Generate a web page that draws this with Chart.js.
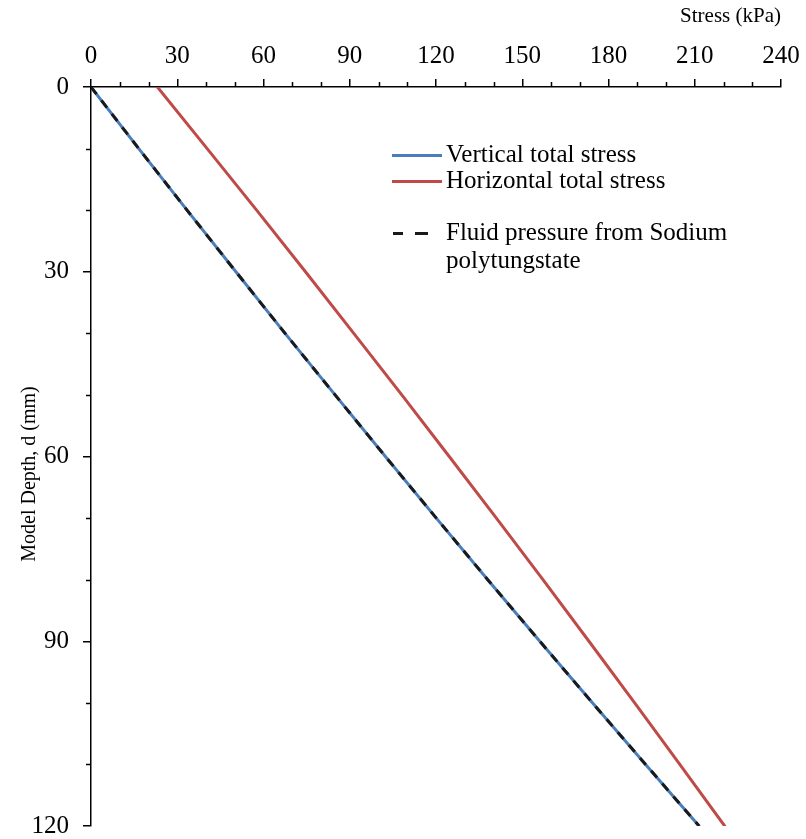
<!DOCTYPE html>
<html>
<head>
<meta charset="utf-8">
<script src="https://cdn.jsdelivr.net/npm/chart.js@4.4.1/dist/chart.umd.min.js"></script>
<style>
    html, body { margin: 0; padding: 0; background: #fff; }
    #wrap { position: relative; width: 806px; height: 839px; }
    #stressChart { display: block; }
    #legend { position: absolute; left: 390px; top: 140px; font-family: 'Liberation Serif', 'Times New Roman', serif; font-size: 25px; color: #000; }
    .item { position: absolute; left: 0; white-space: nowrap; line-height: 28px; }
    .swatch { position: absolute; height: 0; top: 14px; }
    .label { position: absolute; left: 56px; top: 0; }
    #yTitle { position: absolute; width: 240px; height: 20px; left: -92px; top: 464px; line-height: 20px; text-align: center; white-space: nowrap;
              font-family: 'Liberation Serif', 'Times New Roman', serif; font-size: 20px; color: #000; transform: rotate(-90deg); }
</style>
</head>
<body>
<div id="wrap">
    <canvas id="stressChart" width="806" height="839"></canvas>
    <div id="legend"></div>
    <div id="yTitle">Model Depth, d (mm)</div>
</div>
<script>
// depth below model surface (mm)
const depths = [0, 10, 20, 30, 40, 50, 60, 70, 80, 90, 100, 110, 120];
// stresses in kPa
const verticalStress = [0, 16.6, 33.4, 50.4, 67.5, 84.9, 102.4, 120.1, 138.0, 156.1, 174.4, 192.9, 211.5];
const horizontalStress = [23.1, 40.4, 57.6, 74.6, 91.4, 108.1, 124.6, 141.0, 157.2, 173.2, 189.1, 204.8, 220.4];
const fluidPressure = [0, 16.6, 33.4, 50.4, 67.5, 84.9, 102.4, 120.1, 138.0, 156.1, 174.4, 192.9, 211.5];

const seriesNames = ['Vertical total stress', 'Horizontal total stress', 'Fluid pressure from Sodium polytungstate'];
const xTicks = [0, 30, 60, 90, 120, 150, 180, 210, 240];
const yTicks = [0, 30, 60, 90, 120];

const blue = '#4A7EBB';
const red = '#BE4B48';
const dark = '#1a1a1a';

function toPoints(values) {
    return depths.map(function (d, i) { return { x: values[i], y: d }; });
}

// small unlabeled ticks every 10 units, outside the axis line
const minorTicks = {
    id: 'minorTicks',
    afterDraw: function (chart) {
        const ctx = chart.ctx;
        const xs = chart.scales.x;
        const ys = chart.scales.y;
        ctx.save();
        ctx.strokeStyle = '#000';
        ctx.lineWidth = 1.5;
        ctx.beginPath();
        for (let v = 10; v < 240; v += 10) {
            if (v % 30 === 0) continue;
            const px = Math.round(xs.getPixelForValue(v)) + 0.5;
            ctx.moveTo(px, xs.bottom);
            ctx.lineTo(px, xs.bottom - 5);
        }
        for (let v = 10; v < 120; v += 10) {
            if (v % 30 === 0) continue;
            const py = Math.round(ys.getPixelForValue(v)) + 0.5;
            ctx.moveTo(ys.right, py);
            ctx.lineTo(ys.right - 5, py);
        }
        ctx.stroke();
        ctx.restore();
    }
};

const tickFont = { family: "'Liberation Serif', 'Times New Roman', serif", size: 25 };
const titleFont = { family: "'Liberation Serif', 'Times New Roman', serif", size: 21 };

const ctx = document.getElementById('stressChart').getContext('2d');
const stressChart = new Chart(ctx, {
    type: 'scatter',
    data: {
        datasets: [{
            label: seriesNames[0],
            data: toPoints(verticalStress),
            borderColor: blue,
            borderWidth: 3,
            borderCapStyle: 'round',
            showLine: true,
            pointRadius: 0,
            order: 2
        }, {
            label: seriesNames[1],
            data: toPoints(horizontalStress),
            borderColor: red,
            borderWidth: 3,
            borderCapStyle: 'round',
            showLine: true,
            pointRadius: 0,
            order: 1
        }, {
            label: seriesNames[2],
            data: toPoints(fluidPressure),
            borderColor: dark,
            borderWidth: 3,
            borderDash: [9, 8],
            showLine: true,
            pointRadius: 0,
            order: 0
        }]
    },
    options: {
        responsive: false,
        animation: false,
        layout: { padding: { top: 0, right: 25, bottom: 13, left: 0 } },
        plugins: {
            legend: { display: false },
            tooltip: { enabled: false }
        },
        scales: {
            x: {
                type: 'linear',
                position: 'top',
                min: 0,
                max: 240,
                afterBuildTicks: function (s) { s.ticks = xTicks.map(function (v) { return { value: v }; }); },
                afterFit: function (s) {
                    s.height = 87;
                    s.paddingLeft = 0; s.paddingRight = 0; s.paddingTop = 0; s.paddingBottom = 0;
                },
                ticks: { color: '#000', font: tickFont, padding: 8, maxRotation: 0 },
                grid: { drawOnChartArea: false, drawTicks: true, tickLength: 8, color: '#000', lineWidth: 1.5 },
                border: { color: '#000', width: 1.5 },
                title: { display: true, text: 'Stress (kPa)', align: 'end', color: '#000', font: titleFont, padding: { top: 4, bottom: 0 } }
            },
            y: {
                type: 'linear',
                reverse: true,
                min: 0,
                max: 120,
                afterBuildTicks: function (s) { s.ticks = yTicks.map(function (v) { return { value: v }; }); },
                afterFit: function (s) {
                    s.width = 91;
                    s.paddingLeft = 0; s.paddingRight = 0; s.paddingTop = 0; s.paddingBottom = 0;
                },
                ticks: { color: '#000', font: tickFont, padding: 14 },
                grid: { drawOnChartArea: false, drawTicks: true, tickLength: 8, color: '#000', lineWidth: 1.5 },
                border: { color: '#000', width: 1.5 },
                // title is set as a rotated div (sits a bit below centre in the figure)
                title: { display: false }
            }
        }
    },
    plugins: [minorTicks]
});

// legend placed inside the plot, as in the figure
const legendItems = [
    { name: seriesNames[0], top: 0, color: blue, dashed: false },
    { name: seriesNames[1], top: 26, color: red, dashed: false },
    { name: 'Fluid pressure from Sodium<br>polytungstate', top: 78, color: dark, dashed: true }
];
const legend = document.getElementById('legend');
legendItems.forEach(function (it) {
    const div = document.createElement('div');
    div.className = 'item';
    div.style.top = it.top + 'px';
    const segs = it.dashed ? [[3, 10], [25, 13]] : [[2, 50]];
    segs.forEach(function (s) {
        const sw = document.createElement('div');
        sw.className = 'swatch';
        sw.style.left = s[0] + 'px';
        sw.style.width = s[1] + 'px';
        sw.style.borderTop = '3px solid ' + it.color;
        div.appendChild(sw);
    });
    const lb = document.createElement('div');
    lb.className = 'label';
    lb.innerHTML = it.name;
    div.appendChild(lb);
    legend.appendChild(div);
});
</script>
</body>
</html>
